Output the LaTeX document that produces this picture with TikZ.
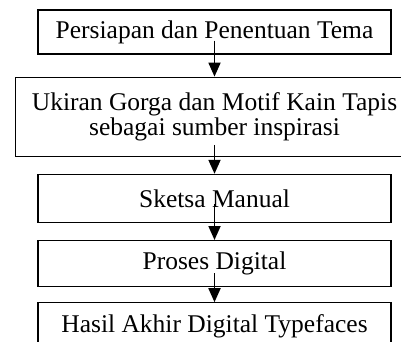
\documentclass[tikz,border=0pt]{standalone}
\usepackage{fontspec}
\setmainfont{Liberation Serif}
\usetikzlibrary{positioning, arrows.meta}
\tikzstyle{stage} = [draw, line width=1.2pt, minimum width=353pt, minimum height=46pt, inner sep=1pt, align=center, font=\fontsize{25.5}{25}\selectfont]
\tikzstyle{flow} = [-{Triangle[width=12pt,length=14pt]}, line width=1.8pt]

\begin{document}
\begin{tikzpicture}[x=1pt, y=1pt]
\useasboundingbox (0,0) rectangle (401,-341);
\clip (0,0) rectangle (401,-341);

%nodes
\node (1) [stage, minimum height=44pt] at (214.5,-32) {Persiapan dan Penentuan Tema};
\node (2) [stage, minimum width=398pt, minimum height=79pt, below=22pt of 1] {Ukiran Gorga dan Motif Kain Tapis \\ sebagai sumber inspirasi};
\node (3) [stage, minimum height=48pt, below=17pt of 2] {Sketsa Manual};
\node (4) [stage, below=17pt of 3] {Proses Digital};
\node (5) [stage, below=15pt of 4] {Hasil Akhir Digital Typefaces};

%arrows
\draw [flow] ([yshift=14pt]1.south) -- (2.north);
\draw [flow] ([yshift=12pt]2.south) -- (3.north);
\draw [flow] ([yshift=19pt]3.south) -- (4.north);
\draw [flow] ([yshift=14pt]4.south) -- (5.north);

\end{tikzpicture}
\end{document}
